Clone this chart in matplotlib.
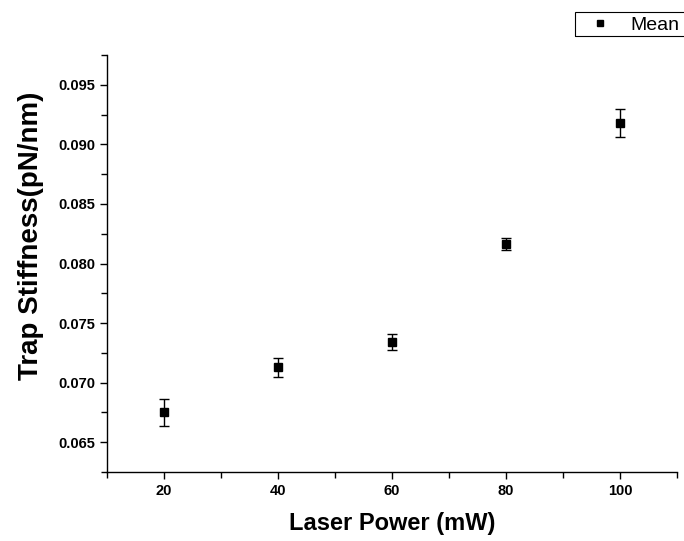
import matplotlib
matplotlib.use("Agg")
import matplotlib.pyplot as plt
from matplotlib.lines import Line2D
from matplotlib.patches import Rectangle
from matplotlib.ticker import MultipleLocator

# values
laser_power = [20, 40, 60, 80, 100]
stiffness = [0.0675, 0.0713, 0.0734, 0.0816, 0.0918]
stiffness_err = [0.0011, 0.0008, 0.0007, 0.0005, 0.0012]
y_ticks = [0.065, 0.070, 0.075, 0.080, 0.085, 0.090, 0.095]

plt.rcParams['font.family'] = ['Liberation Sans', 'DejaVu Sans']

W, H = 684, 541
fig = plt.figure(figsize=(W / 100, H / 100), dpi=100)
ax = fig.add_axes([107 / W, 1 - 472 / H, 570 / W, 417 / H])

ax.errorbar(laser_power, stiffness, yerr=stiffness_err, fmt='s', color='black',
            markersize=6, capsize=3.5, elinewidth=1, capthick=1)

ax.set_xlim(10, 110)
ax.set_ylim(0.0625, 0.0975)
ax.set_xticks(laser_power)
ax.xaxis.set_minor_locator(MultipleLocator(10))
ax.set_yticks(y_ticks)
ax.set_yticklabels([f"{v:.3f}" for v in y_ticks])
ax.yaxis.set_minor_locator(MultipleLocator(0.0025))

for side in ['top', 'right']:
    ax.spines[side].set_visible(False)
for side in ['left', 'bottom']:
    ax.spines[side].set_linewidth(1.0)

ax.tick_params(which='major', direction='out', length=5, width=1, labelsize=10.5)
ax.tick_params(which='minor', direction='out', length=4, width=1)
for lbl in ax.get_xticklabels() + ax.get_yticklabels():
    lbl.set_fontweight('bold')

ax.set_xlabel('Laser Power (mW)', fontsize=17, fontweight='bold', labelpad=10)
ax.set_ylabel('Trap Stiffness(pN/nm)', fontsize=20, fontweight='bold')
ax.yaxis.set_label_coords(-0.11, 0.566)

# legend: box runs off the right edge like in the original
handle = Line2D([], [], marker='s', color='black', linestyle='none', markersize=5)
leg = fig.legend([handle], ['Mean'], loc='upper left',
                 bbox_to_anchor=(586 / W, 1 - 12 / H),
                 frameon=False, fontsize=14, handlelength=1.0,
                 borderpad=0.2, handletextpad=1.1, borderaxespad=0)
fig.patches.append(Rectangle((575 / W, 1 - 36 / H), 130 / W, 24 / H,
                             transform=fig.transFigure, fill=False,
                             edgecolor='black', linewidth=0.8))

fig.savefig('out.png', dpi=100)
